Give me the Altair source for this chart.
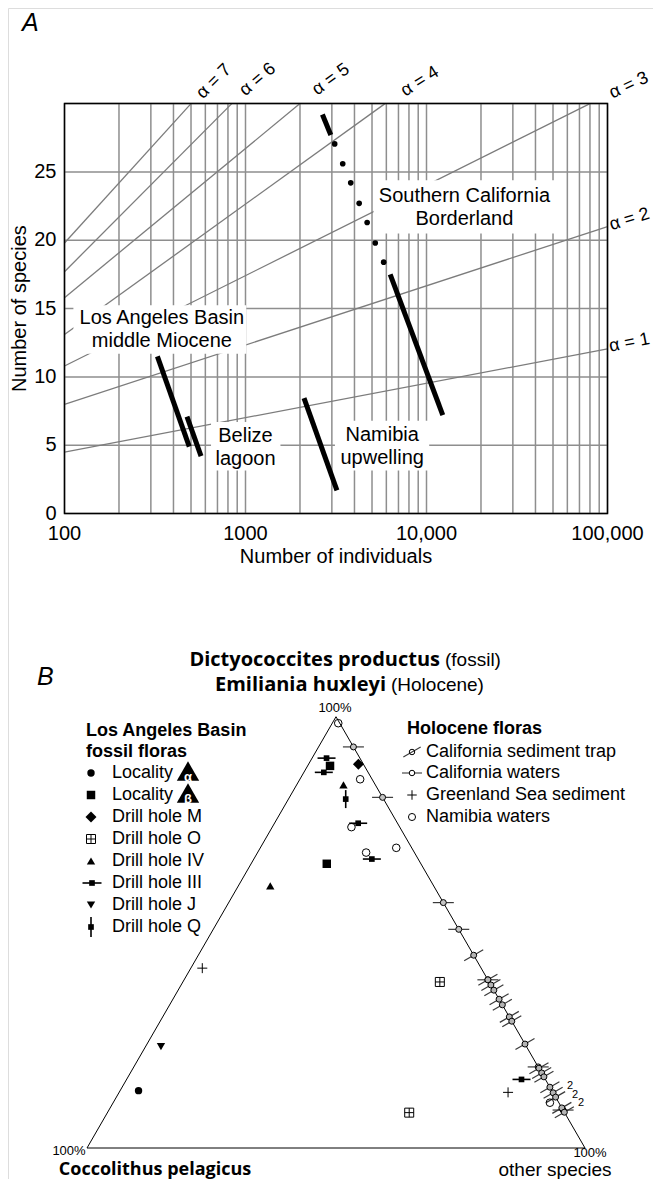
import altair as alt
import pandas as pd

# ======================= Panel A : Fisher alpha diagram =======================
alpha_values = [1, 2, 3, 4, 5, 6, 7]
alpha_start_individuals = [100, 100, 100, 100, 100, 100, 100]
alpha_start_species = [4.5, 8.0, 10.8, 13.1, 15.8, 17.7, 19.8]
alpha_end_individuals = [100000, 100000, 80000, 5900, 2000, 840, 500]
alpha_end_species = [12.05, 21.0, 30.0, 30.0, 30.0, 30.0, 30.0]

sample_names = ["Borderland (top)", "Borderland", "Los Angeles Basin", "Belize lagoon", "Namibia upwelling"]
sample_start_individuals = [2660, 6300, 326, 475, 2105]
sample_start_species = [29.2, 17.5, 11.5, 7.1, 8.45]
sample_end_individuals = [2960, 12300, 489, 568, 3200]
sample_end_species = [27.7, 7.2, 4.9, 4.2, 1.7]

borderland_dot_individuals = [3110, 3445, 3814, 4246, 4700, 5210, 5800]
borderland_dot_species = [27.05, 25.6, 24.2, 22.7, 21.3, 19.8, 18.4]

region_labels = ["Southern California\nBorderland", "Los Angeles Basin\nmiddle Miocene",
                 "Belize\nlagoon", "Namibia\nupwelling"]
region_label_individuals = [16200, 345, 1000, 5690]
region_label_species = [23.24, 14.31, 5.70, 5.75]      # first text line
region_box_individuals_low = [5100, 112, 645, 3120]
region_box_individuals_high = [55000, 1010, 1560, 10350]
region_box_species_low = [20.5, 11.7, 3.15, 3.15]
region_box_species_high = [24.4, 15.25, 6.7, 6.8]

x_grid_values = [100, 200, 300, 400, 500, 600, 700, 800, 900,
                 1000, 2000, 3000, 4000, 5000, 6000, 7000, 8000, 9000,
                 10000, 20000, 30000, 40000, 50000, 60000, 70000, 80000, 90000,
                 100000]
y_grid_values = [0, 5, 10, 15, 20, 25, 30]
x_label_values = [100, 1000, 10000, 100000]
x_label_texts = ["100", "1000", "10,000", "100,000"]
y_label_values = [0, 5, 10, 15, 20, 25]

# ======================= Panel B : ternary diagram =======================
# percentages: D = Dictyococcites/Emiliania (top), C = Coccolithus (left), O = other species (right)
vertex_D = [100, 0, 0, 100]
vertex_C = [0, 100, 0, 0]
vertex_O = [0, 0, 100, 0]

locality_alpha_D = [13.3]
locality_alpha_C = [83.0]
locality_alpha_O = [3.7]

locality_beta_D = [88.6, 65.9]
locality_beta_C = [6.9, 18.9]
locality_beta_O = [4.5, 15.2]

drill_M_D = [89.0]
drill_M_C = [1.0]
drill_M_O = [10.0]

drill_O_D = [38.5, 8.2]
drill_O_C = [9.9, 31.2]
drill_O_O = [51.6, 60.6]

drill_IV_D = [84.2, 60.8]
drill_IV_C = [6.4, 32.8]
drill_IV_O = [9.4, 6.4]

drill_III_D = [90.4, 87.1, 75.3, 67.0, 15.9]
drill_III_C = [6.7, 8.9, 7.9, 9.3, 4.8]
drill_III_O = [2.9, 4.0, 16.8, 23.7, 79.3]

drill_J_D = [23.5]
drill_J_C = [73.4]
drill_J_O = [3.1]

drill_Q_D = [80.9]
drill_Q_C = [7.6]
drill_Q_O = [11.5]

cal_waters_D = [93.0, 81.3, 56.9, 50.7, 39.0, 18.8, 8.8]
cal_waters_C = [0, 0, 0, 0, 0, 0, 0]
cal_waters_O = [7.0, 18.7, 43.1, 49.3, 61.0, 81.2, 91.2]

cal_trap_D = [44.7, 39.0, 37.8, 36.6, 34.5, 33.2, 30.4, 29.4, 24.1, 18.5, 17.4, 16.5, 14.1, 12.8, 11.8, 9.3, 8.3]
cal_trap_C = [0] * 17
cal_trap_O = [55.3, 61.0, 62.2, 63.4, 65.5, 66.8, 69.6, 70.6, 75.9, 81.5, 82.6, 83.5, 85.9, 87.2, 88.2, 90.7, 91.7]

greenland_D = [41.7, 12.9]
greenland_C = [56.0, 9.0]
greenland_O = [2.3, 78.1]

namibia_D = [98.5, 85.5, 74.4, 69.6, 68.5, 10.5]
namibia_C = [0.3, 2.4, 9.7, 3.1, 9.7, 1.8]
namibia_O = [1.2, 12.1, 15.9, 27.3, 21.8, 87.7]

# ======================= layout & styles =======================
FONT = "Liberation Sans"
BOLD_FONT = "Open Sans"
GRID = "#8e8e8e"
ALPHA_LINE = "#7c7c7c"
W, H = 645, 1171          # drawing area = page minus the 8px body margin
OX, OY = 8, 8

# panel A frame (page pixels)
A_LEFT, A_RIGHT, A_TOP, A_BOTTOM = 64.5, 607.5, 103.6, 513.6
dec_px = (A_RIGHT - A_LEFT) / 3.0
unit_px = (A_BOTTOM - A_TOP) / 30.0
xa_scale = alt.Scale(type="log", nice=False,
                     domain=[10 ** (2 - (A_LEFT - OX) / dec_px), 10 ** (5 + (OX + W - A_RIGHT) / dec_px)])
ya_scale = alt.Scale(nice=False, zero=False,
                     domain=[-(OY + H - A_BOTTOM) / unit_px, 30 + (A_TOP - OY) / unit_px])

# panel B frame (page pixels): triangle base from B_LEFT to B_RIGHT at B_BASE
B_LEFT, B_RIGHT, B_BASE = 87.0, 585.0, 1148.0
side = B_RIGHT - B_LEFT
xb_scale = alt.Scale(nice=False, zero=False, domain=[-(B_LEFT - OX) / side, (OX + W - B_LEFT) / side])
yb_scale = alt.Scale(nice=False, zero=False, domain=[-(OY + H - B_BASE) / side, (B_BASE - OY) / side])


def XA(f):
    return alt.X(f, type="quantitative", scale=xa_scale, axis=None)


def YA(f):
    return alt.Y(f, type="quantitative", scale=ya_scale, axis=None)


def XAd(v):
    return alt.XDatum(v, type="quantitative", scale=xa_scale, axis=None)


def YAd(v):
    return alt.YDatum(v, type="quantitative", scale=ya_scale, axis=None)


one = pd.DataFrame({"k": [0]})


def note(text, px, py, size=18, weight="normal", align="left", font=FONT, style="normal",
         color="black", baseline="middle", angle=0):
    return alt.Chart(one).mark_text(text=text, align=align, baseline=baseline, fontSize=size,
                                    fontWeight=weight, font=font, fontStyle=style, angle=angle,
                                    color=color).encode(x=alt.value(px - OX), y=alt.value(py - OY))


# ---------------------------------------------------------------- panel A layers
alpha_df = pd.DataFrame({
    "alpha": alpha_values + alpha_values,
    "individuals": alpha_start_individuals + alpha_end_individuals,
    "species": alpha_start_species + alpha_end_species,
})
alpha_end_df = pd.DataFrame({
    "alpha": alpha_values,
    "individuals": alpha_end_individuals,
    "species": alpha_end_species,
    "label": ["\u03b1 = %d" % a for a in alpha_values],
})
sample_df = pd.DataFrame({
    "sample": sample_names + sample_names,
    "individuals": sample_start_individuals + sample_end_individuals,
    "species": sample_start_species + sample_end_species,
})
dots_df = pd.DataFrame({"individuals": borderland_dot_individuals, "species": borderland_dot_species})
region_df = pd.DataFrame({
    "label": region_labels,
    "individuals": region_label_individuals,
    "species": region_label_species,
    "lo": region_box_individuals_low,
    "hi": region_box_individuals_high,
    "slo": region_box_species_low,
    "shi": region_box_species_high,
})

v_grid = alt.Chart(pd.DataFrame({"v": x_grid_values})).mark_rule(color=GRID, strokeWidth=1.5).encode(
    x=XA("v"), y=YAd(0), y2=alt.datum(30))
h_grid = alt.Chart(pd.DataFrame({"v": y_grid_values})).mark_rule(color=GRID, strokeWidth=1.5).encode(
    y=YA("v"), x=XAd(100), x2=alt.datum(100000))

alpha_lines = alt.Chart(alpha_df).mark_line(color=ALPHA_LINE, strokeWidth=1.3).encode(
    x=XA("individuals"), y=YA("species"), detail="alpha:N")

boxes = alt.Chart(region_df).mark_rect(color="white", opacity=1).encode(
    x=XA("lo"), x2="hi", y=YA("slo"), y2="shi")

frame = alt.Chart(one).mark_rect(filled=False, color="black", strokeWidth=1.5).encode(
    x=XAd(100), x2=alt.datum(100000), y=YAd(0), y2=alt.datum(30))

samples = alt.Chart(sample_df).mark_line(color="black", strokeWidth=5, strokeCap="butt").encode(
    x=XA("individuals"), y=YA("species"), detail="sample:N")

dots = alt.Chart(dots_df).mark_circle(color="black", size=32, opacity=1).encode(
    x=XA("individuals"), y=YA("species"))

region_text = alt.Chart(region_df).mark_text(
    font=FONT, fontSize=20, lineBreak="\n", lineHeight=23, align="center",
    baseline="middle", color="black").encode(
    x=XA("individuals"), y=YA("species"), text="label:N")

x_labels = alt.Chart(pd.DataFrame({"v": x_label_values, "t": x_label_texts})).mark_text(
    font=FONT, fontSize=20, align="center", baseline="middle", yOffset=20, color="black").encode(
    x=XA("v"), y=YAd(0), text="t:N")
y_labels = alt.Chart(pd.DataFrame({"v": y_label_values})).mark_text(
    font=FONT, fontSize=20, align="right", baseline="middle", xOffset=-8, color="black").encode(
    x=XAd(100), y=YA("v"), text="v:Q")

# angle (deg, rising), x offset, y offset (px) of each alpha label from its line end
alpha_label_style = {1: (11, 22, -6), 2: (17, 22, -7), 3: (25, 39, -18),
                     4: (32, 35, -22), 5: (36, 31, -24), 6: (40, 26, -24), 7: (45, 23, -22)}
alpha_labels = []
for a in alpha_values:
    ang, ox, oy = alpha_label_style[a]
    alpha_labels.append(
        alt.Chart(alpha_end_df).transform_filter(alt.datum.alpha == a).mark_text(
            font=FONT, fontSize=18, angle=360 - ang, xOffset=ox, yOffset=oy,
            align="center", baseline="middle", color="black").encode(
            x=XA("individuals"), y=YA("species"), text="label:N"))

layer_a = alt.layer(
    v_grid, h_grid, alpha_lines, boxes, frame, samples, dots, region_text, *alpha_labels,
    x_labels, y_labels,
)

# ---------------------------------------------------------------- panel B layers
def tern(D, C, O):
    df = pd.DataFrame({"D": D, "C": C, "O": O, "k": list(range(len(D)))})
    return alt.Chart(df).transform_calculate(
        tx="(datum.O + datum.D / 2) / 100",
        ty="datum.D / 100 * 0.8660254",
    ).encode(x=alt.X("tx:Q", scale=xb_scale, axis=None),
             y=alt.Y("ty:Q", scale=yb_scale, axis=None))


H_BAR = "M-1,0L1,0"
V_BAR = "M0,-1L0,1"
D_BAR = "M-0.866,0.5L0.866,-0.5"
PLUS = "M-1,0L1,0M0,-1L0,1"
BOX_PLUS = "M-1,-1L1,-1L1,1L-1,1Z M0,-1L0,1 M-1,0L1,0"


def pmark(shape, size, filled, color="black", stroke_width=1.0, fill=None):
    kw = dict(shape=shape, size=size, filled=filled, color=color, opacity=1, strokeWidth=stroke_width)
    if fill is not None:
        kw["fill"] = fill
        kw["stroke"] = "black"
    return kw


triangle = tern(vertex_D, vertex_C, vertex_O).mark_line(color="black", strokeWidth=1).encode(order="k:Q")

b_points = [
    triangle,
    tern(cal_waters_D, cal_waters_C, cal_waters_O).mark_point(**pmark(H_BAR, 441, False, "#3a3a3a", 1.2)),
    tern(cal_trap_D, cal_trap_C, cal_trap_O).mark_point(**pmark(D_BAR, 484, False, "#3a3a3a", 1.2)),
    tern(cal_waters_D, cal_waters_C, cal_waters_O).mark_point(**pmark("circle", 36, True, fill="#c4c4c4")),
    tern(cal_trap_D, cal_trap_C, cal_trap_O).mark_point(**pmark("circle", 36, True, fill="#b4b4b4")),
    tern(drill_III_D, drill_III_C, drill_III_O).mark_point(**pmark(H_BAR, 324, False, "black", 1.6)),
    tern(drill_III_D, drill_III_C, drill_III_O).mark_point(**pmark("square", 32, True)),
    tern(drill_Q_D, drill_Q_C, drill_Q_O).mark_point(**pmark(V_BAR, 324, False, "black", 1.6)),
    tern(drill_Q_D, drill_Q_C, drill_Q_O).mark_point(**pmark("square", 32, True)),
    tern(locality_alpha_D, locality_alpha_C, locality_alpha_O).mark_point(**pmark("circle", 55, True)),
    tern(locality_beta_D, locality_beta_C, locality_beta_O).mark_point(**pmark("square", 72, True)),
    tern(drill_M_D, drill_M_C, drill_M_O).mark_point(**pmark("diamond", 120, True)),
    tern(drill_O_D, drill_O_C, drill_O_O).mark_point(**pmark(BOX_PLUS, 81, False, "black", 1.0)),
    tern(drill_IV_D, drill_IV_C, drill_IV_O).mark_point(**pmark("triangle-up", 70, True)),
    tern(drill_J_D, drill_J_C, drill_J_O).mark_point(**pmark("triangle-down", 70, True)),
    tern(namibia_D, namibia_C, namibia_O).mark_point(**pmark("circle", 58, False, "black", 1.0)),
    tern(greenland_D, greenland_C, greenland_O).mark_point(**pmark(PLUS, 100, False, "black", 1.0)),
]


def glyph(px, py, **kw):
    return alt.Chart(one).mark_point(**kw).encode(x=alt.value(px - OX), y=alt.value(py - OY))


# --- annotations (page pixel positions)
notes = [
    # panel A texts
    note("A", 22, 31, size=25, style="italic", baseline="alphabetic"),
    note("Number of individuals", 336, 557, size=20, align="center"),
    note("Number of species", 20, 308.6, size=20, align="center", angle=270),
    # panel B texts
    note("B", 37, 685, size=25, style="italic", baseline="alphabetic"),
    note("Dictyococcites productus", 440, 660, size=20, weight="bold", align="right", font=BOLD_FONT),
    note("(fossil)", 445, 660, size=19),
    note("Emiliania huxleyi", 386, 685, size=20, weight="bold", align="right", font=BOLD_FONT),
    note("(Holocene)", 391, 685, size=19),
    note("100%", 335, 708, size=13, align="center"),
    note("100%", 69, 1151, size=13, align="center"),
    note("100%", 590, 1153, size=13, align="center"),
    note("Coccolithus pelagicus", 155, 1170, size=18, weight="bold", align="center", font=BOLD_FONT),
    note("other species", 555, 1170, size=19, align="center"),
    note("2", 567, 1086, size=11),
    note("2", 572, 1095, size=11),
    note("2", 578, 1103, size=11),
    # left legend
    note("Los Angeles Basin", 86, 731, weight="bold"),
    note("fossil floras", 86, 752, weight="bold"),
]
left_rows = ["Locality", "Locality", "Drill hole M", "Drill hole O", "Drill hole IV",
             "Drill hole III", "Drill hole J", "Drill hole Q"]
left_y = [773, 795, 817, 839, 861, 883, 905, 927]
for txt, yy in zip(left_rows, left_y):
    notes.append(note(txt, 112, yy))
LX = 91
notes += [
    glyph(LX, 773, **pmark("circle", 55, True)),
    glyph(LX, 795, **pmark("square", 72, True)),
    glyph(LX, 817, **pmark("diamond", 120, True)),
    glyph(LX, 839, **pmark(BOX_PLUS, 81, False, "black", 1.0)),
    glyph(LX, 861, **pmark("triangle-up", 70, True)),
    glyph(LX + 1, 883, **pmark(H_BAR, 361, False, "black", 1.6)),
    glyph(LX + 1, 883, **pmark("square", 32, True)),
    glyph(LX, 905, **pmark("triangle-down", 70, True)),
    glyph(LX, 927, **pmark(V_BAR, 400, False, "black", 1.6)),
    glyph(LX, 927, **pmark("square", 32, True)),
    # alpha / beta badges
    glyph(188, 771, **pmark("triangle-up", 500, True)),
    note("\u03b1", 188, 777, size=13, weight="bold", align="center", color="white"),
    glyph(188, 793, **pmark("triangle-up", 500, True)),
    note("\u03b2", 188, 799, size=13, weight="bold", align="center", color="white"),
    # right legend
    note("Holocene floras", 407, 729, weight="bold"),
    note("California sediment trap", 426, 752),
    note("California waters", 426, 773),
    note("Greenland Sea sediment", 426, 795),
    note("Namibia waters", 426, 817),
    glyph(412, 752, **pmark(D_BAR, 400, False, "#3a3a3a", 1.1)),
    glyph(412, 752, **pmark("circle", 30, False, "black", 1.0)),
    glyph(412, 773, **pmark(H_BAR, 400, False, "#3a3a3a", 1.1)),
    glyph(412, 773, **pmark("circle", 30, True, fill="white")),
    glyph(412, 795, **pmark(PLUS, 90, False, "black", 1.0)),
    glyph(412, 817, **pmark("circle", 50, False, "black", 1.0)),
]

layer_b = alt.layer(*b_points, *notes)

chart = alt.layer(layer_a, layer_b).resolve_scale(
    x="independent", y="independent"
).properties(
    width=W, height=H, padding=0, autosize=alt.AutoSizeParams(type="none")
).configure_view(stroke="transparent").configure(font=FONT)

chart.save("out.html", embed_options={"renderer": "svg", "actions": False})
